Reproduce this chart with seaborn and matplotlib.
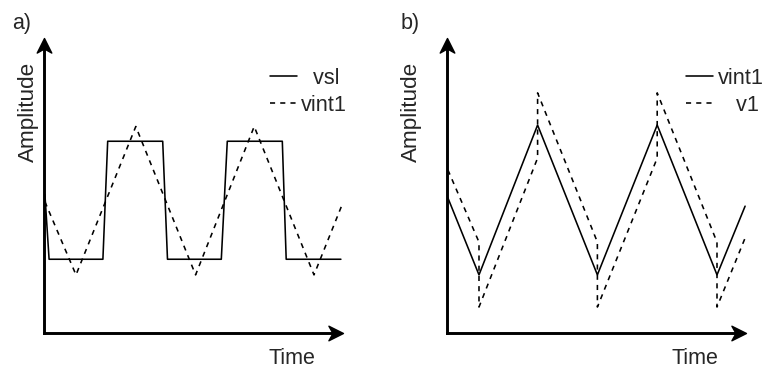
import matplotlib
matplotlib.use("Agg")
import matplotlib.pyplot as plt
import numpy as np
import pandas as pd
import seaborn as sns
from matplotlib.path import Path

# panel a) square wave vsl and its integral vint1
vsl_t = [0.03, 0.17, 1.97, 2.13, 3.97, 4.13, 5.93, 6.13, 7.97, 8.10, 9.93]
vsl_v = [4.7, 2.5, 2.5, 6.5, 6.5, 2.5, 2.5, 6.5, 6.5, 2.5, 2.5]
vint1a_t = [0.03, 1.07, 3.07, 5.07, 7.03, 9.03, 9.97]
vint1a_v = [4.45, 1.97, 7.0, 1.97, 7.0, 1.97, 4.35]

# panel b) triangle vint1 and output v1
vint1b_t = [0.03, 1.07, 3.03, 5.03, 7.03, 9.03, 9.97]
vint1b_v = [4.58, 1.97, 7.05, 1.97, 7.05, 1.97, 4.3]
v1_t = [0.03, 1.07, 1.07, 3.03, 3.03, 5.03, 5.03, 7.03, 7.03, 9.03, 9.03, 9.97]
v1_v = [5.53, 3.08, 0.88, 5.93, 8.14, 3.08, 0.88, 5.93, 8.14, 3.08, 0.88, 3.22]

sns.set_style("white")
plt.rcParams["font.family"] = ["Liberation Sans", "DejaVu Sans"]
FS = 15.5
LW = 1.15
DASH = (0, (3.2, 3.2))

# notched arrow heads, tip at the marker origin
up_head = Path([(0, 0), (-0.5, -1), (0, -0.72), (0.5, -1), (0, 0)],
               [Path.MOVETO, Path.LINETO, Path.LINETO, Path.LINETO, Path.CLOSEPOLY])
right_head = Path([(0, 0), (-1, 0.5), (-0.72, 0), (-1, -0.5), (0, 0)],
                  [Path.MOVETO, Path.LINETO, Path.LINETO, Path.LINETO, Path.CLOSEPOLY])


def sketch_axes(ax, tag, tag_x, ylab_x, legend_x):
    ax.set_xlim(0, 10)
    ax.set_ylim(0, 10)
    ax.set_xticks([])
    ax.set_yticks([])
    for s in ["top", "right"]:
        ax.spines[s].set_visible(False)
    for s in ["left", "bottom"]:
        ax.spines[s].set_linewidth(2.1)
        ax.spines[s].set_color("black")
    ax.spines["left"].set_bounds(0, 9.6)
    ax.spines["bottom"].set_bounds(0, 9.6)
    ax.plot(0, 1, marker=up_head, ms=21, color="black", transform=ax.transAxes, clip_on=False)
    ax.plot(1, 0, marker=right_head, ms=21, color="black", transform=ax.transAxes, clip_on=False)
    ax.set_xlabel("Time", fontsize=FS)
    ax.set_ylabel("Amplitude", fontsize=16.2)
    ax.xaxis.set_label_coords(0.828, -0.052)
    ax.yaxis.set_label_coords(ylab_x, 0.75)
    ax.text(tag_x, 1.049, tag, transform=ax.transAxes, fontsize=FS, ha="left", va="center")
    ax.legend(loc="upper left", bbox_to_anchor=(legend_x, 0.898), frameon=False,
              fontsize=15.7, handlelength=1.25, handletextpad=0.2,
              labelspacing=0.27, borderpad=0, borderaxespad=0)


fig = plt.figure(figsize=(7.68, 3.70), dpi=100)
ax1 = fig.add_axes([44 / 768, 0.1, 299 / 768, 295 / 370])
ax2 = fig.add_axes([447 / 768, 0.1, 299 / 768, 295 / 370])

sns.lineplot(x=vsl_t, y=vsl_v, ax=ax1, color="black", lw=LW, sort=False, estimator=None, label="  vsl")
sns.lineplot(x=vint1a_t, y=vint1a_v, ax=ax1, color="black", lw=LW, linestyle=DASH,
             sort=False, estimator=None, label="vint1")
sketch_axes(ax1, "a)", -0.107, -0.017, 0.755)

sns.lineplot(x=vint1b_t, y=vint1b_v, ax=ax2, color="black", lw=LW, sort=False, estimator=None, label="vint1")
sns.lineplot(x=v1_t, y=v1_v, ax=ax2, color="black", lw=LW, linestyle=DASH,
             sort=False, estimator=None, label="   v1")
sketch_axes(ax2, "b)", -0.154, -0.085, 0.8)

fig.savefig("out.png", dpi=100)
